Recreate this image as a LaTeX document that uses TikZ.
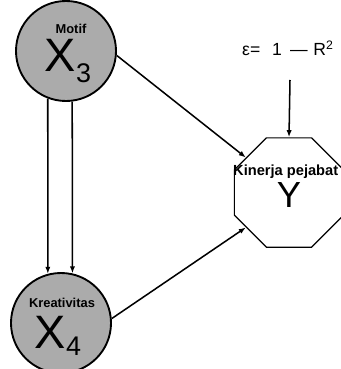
\documentclass[tikz,border=0pt]{standalone}
\usepackage{fontspec}
\setmainfont{Liberation Sans}
\usetikzlibrary{arrows.meta,shapes.geometric}
\newcommand{\pathvar}[3]{\fontsize{40}{40}\selectfont #1\raisebox{#3}{\fontsize{23}{23}\selectfont #2}}
\definecolor{vgrey}{HTML}{ABABAB}

\begin{document}
\begin{tikzpicture}[x=0.03cm,y=-0.03cm,
  varnode/.style={circle,draw=black,line width=1.6pt,fill=vgrey,minimum size=3cm,inner sep=0pt},
  endnode/.style={regular polygon,regular polygon sides=8,draw=black,line width=1pt,minimum size=3.55cm,inner sep=0pt},
  varlab/.style={font=\bfseries\fontsize{11}{11}\selectfont,inner sep=0.5pt},
  effect/.style={line width=1.3pt,-{Latex[length=6pt,width=4.5pt]}}]
  \useasboundingbox (0,0) rectangle (340,369);

  % variables
  \node[varnode] (x3) at (66,51) {};
  \node[varnode] (x4) at (61,323) {};
  \node[endnode] (y) at (289,192.5) {};

  % texts
  \node[varlab] (x3lab) at (71,29) {Motif};
  \node[anchor=base,inner sep=0pt] (x3sym) at (68,72) {\pathvar{X}{3}{-9pt}};
  \node[varlab] (x4lab) at (62,303) {Kreativitas};
  \node[anchor=base,inner sep=0pt] (x4sym) at (58,348) {\pathvar{X}{4}{-6pt}};
  \node[font=\bfseries\fontsize{12.5}{12.5}\selectfont,anchor=west,inner sep=0pt] (ylab) at (233,172) {Kinerja pejabat};
  \node[font=\fontsize{31}{31}\selectfont] (ysym) at (289,195) {Y};
  \node[font=\fontsize{15}{15}\selectfont,anchor=base west,inner sep=0pt] (eps) at (242,56)
    {ε=\hspace{10pt}1\hspace{7pt}—\hspace{5pt}R\textsuperscript{2}};

  % paths
  \foreach \a/\b in {249/105, 277/77}{
    \draw[effect] (x3.\a) -- (x4.\b);
  }
  \draw[effect] (x3.-5) -- (y.141);
  \draw[effect] (x4.5) -- (y.219);
  \coordinate (epstail) at (290,80);
  \draw[effect] (epstail) -- (y.north);
\end{tikzpicture}
\end{document}
